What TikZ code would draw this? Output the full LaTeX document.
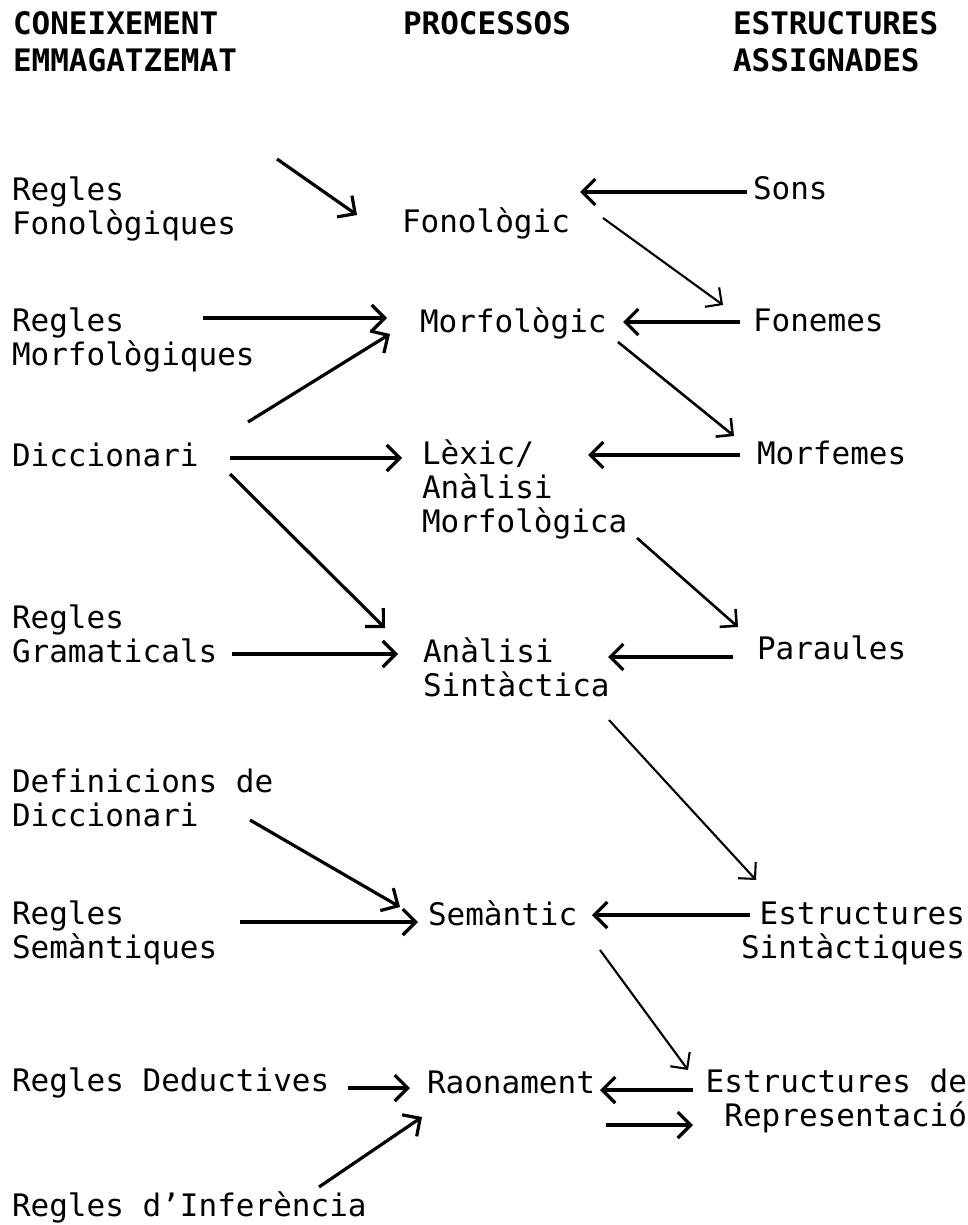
\documentclass[tikz,border=0pt]{standalone}
\usepackage{fontspec}
\newfontfamily\diag{DejaVu Sans Mono}
\usetikzlibrary{arrows.meta}
\begin{document}
\begin{tikzpicture}[x=0.5pt,y=-0.5pt,
  lbl/.style={inner sep=0pt, outer sep=0pt, font=\diag\fontsize{15.5}{17}\selectfont},
  lft/.style={lbl, align=left, anchor=west},
  rgt/.style={lbl, align=right, anchor=east},
  hdr/.style={inner sep=0pt, outer sep=0pt, anchor=west, align=left, font=\diag\bfseries\fontsize{15.5}{18.5}\selectfont},
  con/.style={-{Straight Barb[length=6.5pt,width=13pt]}, line width=1.6pt},
  midcon/.style={-{Straight Barb[length=6pt,width=12pt]}, line width=1.3pt},
  thincon/.style={-{Straight Barb[length=6pt,width=12pt]}, line width=1.05pt}
]
\useasboundingbox (0,0) rectangle (968,1225);

% headers
\node[hdr] (h1) at (13,41.5) {CONEIXEMENT\\EMMAGATZEMAT};
\node[hdr] (h2) at (403,23) {PROCESSOS};
\node[hdr] (h3) at (733,41.5) {ESTRUCTURES\\ASSIGNADES};

% left column
\node[lft] (rf)  at (12,209)  {Regles\\Fonològiques};
\node[lft] (rm)  at (12,340)  {Regles\\Morfològiques};
\node[lft] (dic) at (12,455)  {Diccionari};
\node[lft] (rg)  at (12,634)  {Regles\\Gramaticals};
\node[lft] (def) at (12,798)  {Definicions de\\Diccionari};
\node[lft] (rs)  at (12,933)  {Regles\\Semàntiques};
\node[lft] (rd)  at (12,1083) {Regles Deductives};
\node[lft] (ri)  at (12,1207) {Regles d’Inferència};

% middle column
\node[lft] (fon) at (402,223) {Fonològic};
\node[lft] (mor) at (420,323) {Morfològic};
\node[lft] (lex) at (422,489) {Lèxic/\\Anàlisi\\Morfològica};
\node[lft] (an)  at (423,667) {Anàlisi\\Sintàctica};
\node[lft] (sem) at (428,913) {Semàntic};
\node[lft] (rao) at (427,1082) {Raonament};

% right column
\node[lft] (sons)  at (753,188) {Sons};
\node[lft] (fonem) at (753,320) {Fonemes};
\node[lft] (morf)  at (757,453) {Morfemes};
\node[lft] (par)   at (757,648) {Paraules};
\node[rgt] (es)    at (965,933) {Estructures\\Sintàctiques};
\node[rgt] (edr)   at (967,1101) {Estructures de\\Representació};

% connectors
\draw[con] ([shift={(265,-50)}]rf.west) -- ([shift={(-45,-8)}]fon.west);
\draw[con] ([shift={(-6,4)}]sons.west) -- ([shift={(178,-31)}]fon.west);
\draw[thincon] ([shift={(201,-5)}]fon.west) -- ([shift={(-30,-15)}]fonem.west);
\draw[con] ([shift={(191,-22)}]rm.west) -- ([shift={(-33,-5)}]mor.west);
\draw[con] ([shift={(-13,2)}]fonem.west) -- ([shift={(203,-1)}]mor.west);
\draw[con] ([shift={(236,-33)}]dic.west) -- ([shift={(-30,11)}]mor.west);
\draw[midcon] ([shift={(198,19)}]mor.west) -- ([shift={(-23,-17)}]morf.west);
\draw[con] ([shift={(218,3)}]dic.west) -- ([shift={(-20,-31)}]lex.west);
\draw[con] ([shift={(-17,2)}]morf.west) -- ([shift={(166,-34)}]lex.west);
\draw[con] ([shift={(218,19)}]dic.west) -- ([shift={(-38,-39)}]an.west);
\draw[midcon] ([shift={(215,49)}]lex.west) -- ([shift={(-19,-21)}]par.west);
\draw[con] ([shift={(220,20)}]rg.west) -- ([shift={(-25,-13)}]an.west);
\draw[con] ([shift={(-24,9)}]par.west) -- ([shift={(185,-10)}]an.west);
\draw[thincon] ([shift={(186,53)}]an.west) -- ([shift={(-209,-53)}]es.east);
\draw[con] ([shift={(238,22)}]def.west) -- ([shift={(-28,-6)}]sem.west);
\draw[con] ([shift={(228,-11)}]rs.west) -- ([shift={(-10,9)}]sem.west);
\draw[con] ([shift={(-215,-18)}]es.east) -- ([shift={(164,2)}]sem.west);
\draw[thincon] ([shift={(172,37)}]sem.west) -- ([shift={(-279,-31)}]edr.east);
\draw[con] ([shift={(336,5)}]rd.west) -- ([shift={(-17,6)}]rao.west);
\draw[con] ([shift={(-274,-11)}]edr.east) -- ([shift={(173,8)}]rao.west);
\draw[con] ([shift={(179,43)}]rao.west) -- ([shift={(-274,24)}]edr.east);
\draw[con] ([shift={(307,-20)}]ri.west) -- ([shift={(-5,35)}]rao.west);
\end{tikzpicture}
\end{document}
